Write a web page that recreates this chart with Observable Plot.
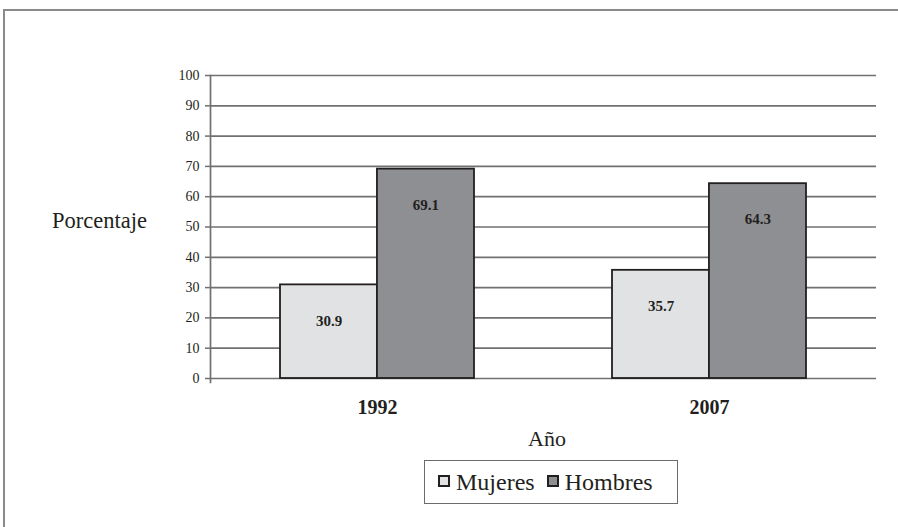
<!DOCTYPE html>
<html>
<head>
<meta charset="utf-8">
<script src="https://cdn.jsdelivr.net/npm/d3@7"></script>
<script src="https://cdn.jsdelivr.net/npm/@observablehq/plot@0.6"></script>
<style>
  body { margin: 0; background: #fff; }
  #wrap { position: relative; width: 898px; height: 527px; overflow: hidden;
          font-family: "Liberation Serif", "Times New Roman", serif; color: #231f20; }
  #border { position: absolute; left: 3px; top: 9px; width: 1000px; height: 1000px;
            border-top: 2px solid #8a8a8a; border-left: 2px solid #8a8a8a; }
  #chart { position: absolute; left: 0; top: 0; }
  #ylabel { position: absolute; left: 52px; top: 207px; font-size: 22.5px; line-height: 28px;
            font-family: "Liberation Serif", serif; }
  #xlabel { position: absolute; left: 0; width: 1094px; top: 425px; text-align: center;
            font-size: 22px; line-height: 28px; font-family: "Liberation Serif", serif; }
  #legend { position: absolute; left: 424px; top: 460px; width: 252px; height: 42px;
            border: 1px solid #6b6b6b; display: flex; align-items: center; justify-content: flex-start;
            padding-left: 13px; box-sizing: content-box; width: 239px;
            font-size: 24px; gap: 12px; font-family: "Liberation Serif", serif; }
  .item { display: flex; align-items: center; gap: 6px; }
  .sw { display: inline-block; width: 8px; height: 8px; border: 2.5px solid #231f20; position: relative; top: -1px; }
</style>
</head>
<body>
<div id="wrap">
  <div id="border"></div>
  <div id="chart"></div>
  <div id="ylabel">Porcentaje</div>
  <div id="xlabel">Año</div>
  <div id="legend"></div>
</div>
<script>
const years = ["1992", "2007"];
const sexes = ["Mujeres", "Hombres"];
const mujeres = [30.9, 35.7];
const hombres = [69.1, 64.3];
const yTicks = [0, 10, 20, 30, 40, 50, 60, 70, 80, 90, 100];
const colors = ["#e1e2e4", "#8e8f92"];

const rowsM = years.map((y, i) => ({year: y, sex: sexes[0], value: mujeres[i]}));
const rowsH = years.map((y, i) => ({year: y, sex: sexes[1], value: hombres[i]}));

const font = '"Liberation Serif", "Times New Roman", serif';
const W = 898, H = 527, ML = 210, MR = 22, MT = 75, MB = 149;
const xOpts = {type: "band", domain: years, paddingInner: 0.416, paddingOuter: 0.211};
const bw = Plot.scale({x: {...xOpts, range: [ML, W - MR]}}).bandwidth;
const half = bw / 2;

const chart = Plot.plot({
  width: W, height: H,
  marginLeft: ML, marginRight: MR, marginTop: MT, marginBottom: MB,
  style: {fontFamily: font, background: "transparent", color: "#231f20"},
  x: {...xOpts, axis: null},
  y: {domain: [0, 100], axis: null},
  color: {domain: sexes, range: colors},
  marks: [
    Plot.ruleY(yTicks, {stroke: "#707070", strokeWidth: 1.7}),
    Plot.axisY({ticks: yTicks, tickSize: 5, tickPadding: 6, fontSize: 14, fontFamily: font,
                stroke: "#707070", strokeWidth: 1.5, label: null, fill: "#231f20"}),
    Plot.frame({anchor: "left", stroke: "#707070", strokeWidth: 1.7, insetBottom: -4}),
    Plot.barY(rowsM, {x: "year", y: "value", fill: "sex", insetRight: half,
                      stroke: "#231f20", strokeWidth: 1.8}),
    Plot.barY(rowsH, {x: "year", y: "value", fill: "sex", insetLeft: half,
                      stroke: "#231f20", strokeWidth: 1.8}),
    Plot.text(rowsM, {x: "year", y: "value", text: d => d.value.toFixed(1), dx: -half / 2, dy: 36,
                      fontWeight: "bold", fontSize: 15, fontFamily: font, fill: "#231f20"}),
    Plot.text(rowsH, {x: "year", y: "value", text: d => d.value.toFixed(1), dx: half / 2, dy: 36,
                      fontWeight: "bold", fontSize: 15, fontFamily: font, fill: "#231f20"}),
    Plot.axisX({anchor: "bottom", tickSize: 0, tickPadding: 21, fontSize: 20, fontFamily: font,
                fontWeight: "bold", label: null, fill: "#231f20"})
  ]
});
document.getElementById("chart").appendChild(chart);

const legend = document.getElementById("legend");
sexes.forEach((s, i) => {
  const item = document.createElement("span");
  item.className = "item";
  const sw = document.createElement("span");
  sw.className = "sw";
  sw.style.background = colors[i];
  const t = document.createElement("span");
  t.textContent = s;
  item.appendChild(sw);
  item.appendChild(t);
  legend.appendChild(item);
});
</script>
</body>
</html>
